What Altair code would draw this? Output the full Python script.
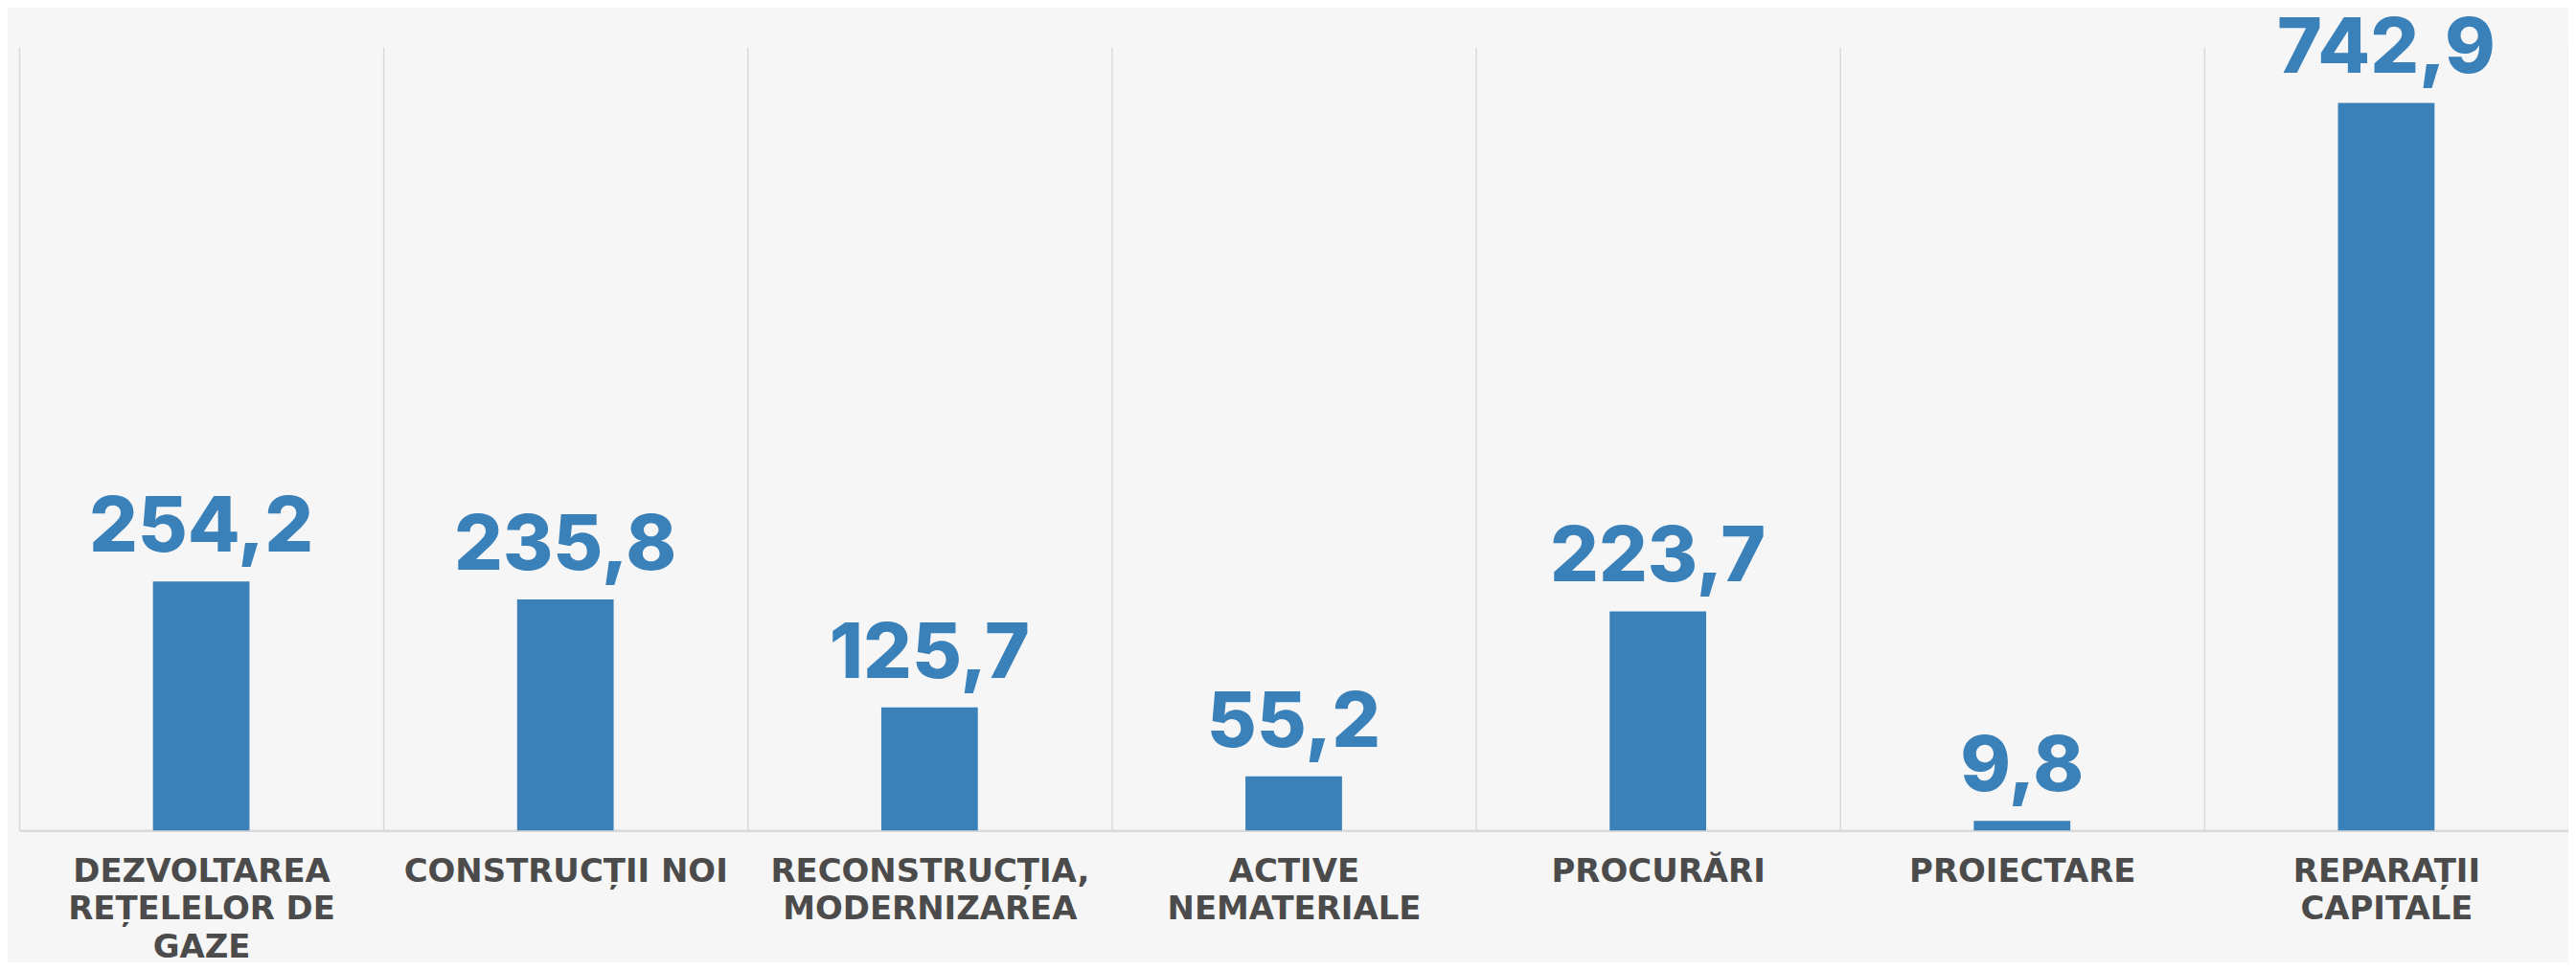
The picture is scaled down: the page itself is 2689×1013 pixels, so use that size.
import altair as alt
import pandas as pd

categories = [
    "DEZVOLTAREA|REȚELELOR DE|GAZE",
    "CONSTRUCȚII NOI",
    "RECONSTRUCȚIA,|MODERNIZAREA",
    "ACTIVE|NEMATERIALE",
    "PROCURĂRI",
    "PROIECTARE",
    "REPARAȚII|CAPITALE",
]
values = [254.2, 235.8, 125.7, 55.2, 223.7, 9.8, 742.9]
value_labels = ["254,2", "235,8", "125,7", "55,2", "223,7", "9,8", "742,9"]

df = pd.DataFrame({"cat": categories, "value": values, "label": value_labels})

BLUE = "#3A80B9"

x_enc = alt.X(
    "cat:N",
    sort=categories,
    scale=alt.Scale(paddingInner=0, paddingOuter=0),
    axis=alt.Axis(
        title=None,
        labelExpr="split(datum.label, '|')",
        labelAngle=0,
        labelAlign="center",
        labelBaseline="top",
        labelFont="DejaVu Sans",
        labelFontWeight="bold",
        labelFontSize=34,
        labelLineHeight=40,
        labelColor="#4B4B4B",
        labelPadding=26,
        labelLimit=1000,
        labelOverlap=False,
        ticks=False,
        tickSize=0,
        tickBand="extent",
        grid=True,
        gridColor="#DADADA",
        gridWidth=1.5,
        domain=True,
        domainColor="#D9D9D9",
        domainWidth=2.5,
    ),
)
y_enc = alt.Y("value:Q", scale=alt.Scale(domain=[0, 800], nice=False, zero=True), axis=None)

bars = alt.Chart(df).mark_bar(color=BLUE, size=101).encode(x=x_enc, y=y_enc)

texts = alt.Chart(df).mark_text(
    color=BLUE,
    font="Inter",
    fontWeight=800,
    fontSize=80,
    baseline="alphabetic",
    align="center",
    dy=-31,
).encode(x=alt.X("cat:N", sort=categories), y=y_enc, text="label:N")

chart = (
    alt.layer(bars, texts)
    .properties(
        width=2667,
        height=820,
        autosize=alt.AutoSizeParams(type="none"),
        padding={"left": 12, "top": 40, "right": 0, "bottom": 137},
        background="#F7F6F6",
    )
    .configure_view(stroke=None)
)

chart.save("out.html", embed_options={"renderer": "svg", "actions": False})
